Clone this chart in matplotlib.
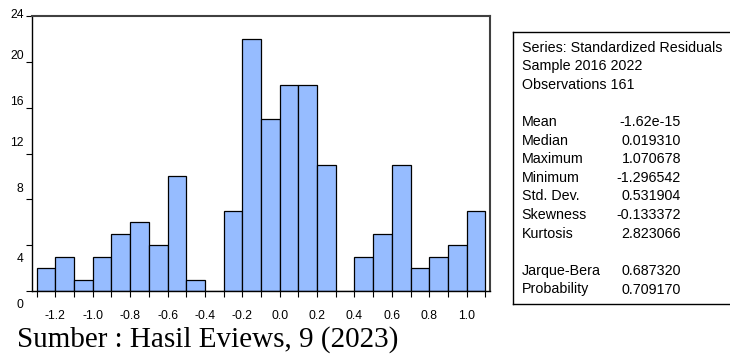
import numpy as np
import matplotlib.pyplot as plt
import matplotlib.transforms as mtransforms

# histogram of standardized residuals (bins of width 0.1)
bin_left = [-1.3, -1.2, -1.1, -1.0, -0.9, -0.8, -0.7, -0.6, -0.5, -0.4, -0.3, -0.2,
            -0.1, 0.0, 0.1, 0.2, 0.3, 0.4, 0.5, 0.6, 0.7, 0.8, 0.9, 1.0]
counts = [2, 3, 1, 3, 5, 6, 4, 10, 1, 0, 7, 22, 15, 18, 18, 11, 0, 3, 5, 11, 2, 3, 4, 7]
bin_width = 0.1

xtick_vals = [-1.2, -1.0, -0.8, -0.6, -0.4, -0.2, 0.0, 0.2, 0.4, 0.6, 0.8, 1.0]
ytick_vals = [0, 4, 8, 12, 16, 20, 24]

stat_names = ["Mean", "Median", "Maximum", "Minimum", "Std. Dev.", "Skewness", "Kurtosis"]
stat_values = ["-1.62e-15", "0.019310", "1.070678", "-1.296542", "0.531904", "-0.133372", "2.823066"]
test_names = ["Jarque-Bera", "Probability"]
test_values = ["0.687320", "0.709170"]
header = ["Series: Standardized Residuals", "Sample 2016 2022", "Observations 161"]

plt.rcParams['font.family'] = ['Liberation Sans', 'DejaVu Sans']

fig = plt.figure(figsize=(7.3, 3.54), dpi=100)
ax = fig.add_axes([32/730, 1-291/354, 458/730, 275/354])

ax.bar(bin_left, counts, width=bin_width, align='edge', color='#96BCFF',
       edgecolor='black', linewidth=0.9)

ax.set_xlim(-1.325, 1.125)
ax.set_ylim(0, 24)
ax.set_xticks(xtick_vals)
ax.set_xticklabels(["%.1f" % v for v in xtick_vals], fontsize=8.7)
ax.set_xticks(np.round(np.arange(-1.3, 1.15, 0.1), 1), minor=True)
ax.tick_params(axis='x', which='both', direction='out', length=4, width=0.8, pad=10)
ax.set_yticks(ytick_vals)
ax.set_yticklabels([str(v) for v in ytick_vals], fontsize=8.7)
ax.tick_params(axis='y', direction='out', length=4, width=0.8, pad=2)

# eviews places the y labels a little off their ticks (pixels, up is positive)
offsets = [-12, -12, 12, 12, 7, 7, 2]
for lab, dy in zip(ax.get_yticklabels(), offsets):
    lab.set_transform(lab.get_transform() + mtransforms.ScaledTranslation(0, dy/100, fig.dpi_scale_trans))

for s in ['top', 'right']:
    ax.spines[s].set_color('#404040')
    ax.spines[s].set_linewidth(1.5)
for s in ['left', 'bottom']:
    ax.spines[s].set_color('black')
    ax.spines[s].set_linewidth(1.0)

# statistics box
box = fig.add_axes([513/730, 1-304/354, 0.4, 272/354])
box.set_xlim(513, 805)
box.set_ylim(304, 32)
box.set_xticks([])
box.set_yticks([])
for s in box.spines.values():
    s.set_linewidth(1.0)

fs = 10.3
y = 47.7
step = 18.6
for line in header:
    box.text(521.5, y, line, fontsize=fs, va='center', ha='left')
    y += step
y += step
for name, val in zip(stat_names, stat_values):
    box.text(521.5, y, name, fontsize=fs, va='center', ha='left')
    box.text(681, y, val, fontsize=fs, va='center', ha='right')
    y += step
y += step
for name, val in zip(test_names, test_values):
    box.text(521.5, y, name, fontsize=fs, va='center', ha='left')
    box.text(681, y, val, fontsize=fs, va='center', ha='right')
    y += step

fig.text(17/730, 1-347/354, "Sumber : Hasil Eviews, 9 (2023)", fontsize=21,
         family=['Liberation Serif', 'DejaVu Serif'], ha='left', va='baseline')

fig.savefig("out.png", dpi=100)
